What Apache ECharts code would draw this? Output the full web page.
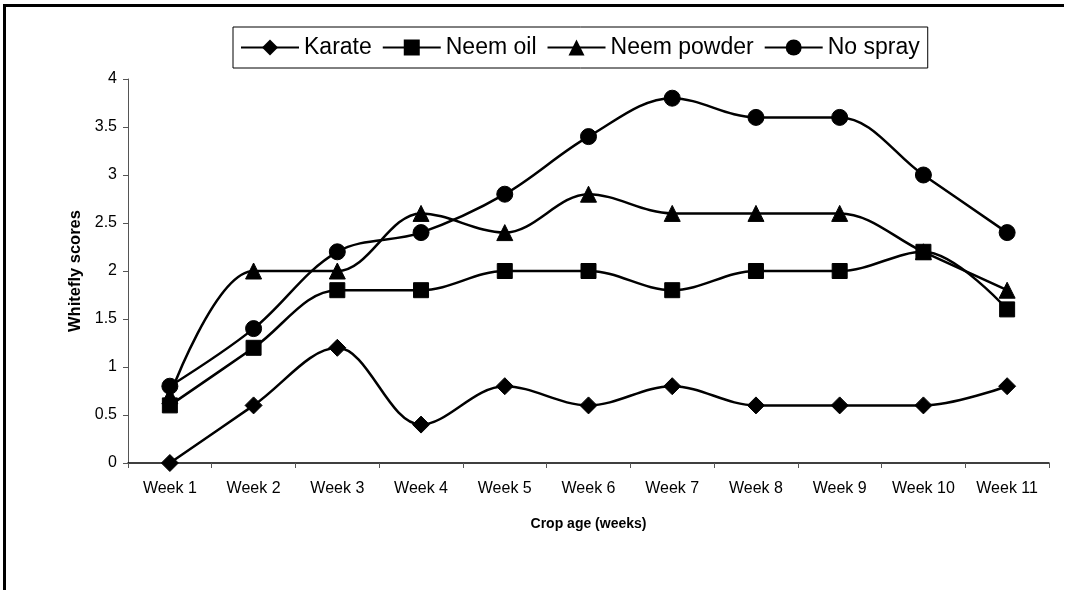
<!DOCTYPE html>
<html>
<head>
<meta charset="utf-8">
<script src="https://cdn.jsdelivr.net/npm/echarts@6/dist/echarts.min.js"></script>
<style>
  html, body { margin: 0; padding: 0; background: #fff; }
  #frame { position: absolute; left: 3px; top: 4px; width: 1061px; height: 590px;
    border-left: 3px solid #000; border-top: 3px solid #000; box-sizing: border-box; }
  #chart { position: absolute; left: 0; top: 0; width: 1073px; height: 590px; }
</style>
</head>
<body>
<div id="frame"></div>
<div id="chart"></div>
<script>
// ---- datos ----
const weeks = ['Week 1', 'Week 2', 'Week 3', 'Week 4', 'Week 5', 'Week 6',
  'Week 7', 'Week 8', 'Week 9', 'Week 10', 'Week 11'];
const karate = [0, 0.6, 1.2, 0.4, 0.8, 0.6, 0.8, 0.6, 0.6, 0.6, 0.8];
const neemOil = [0.6, 1.2, 1.8, 1.8, 2.0, 2.0, 1.8, 2.0, 2.0, 2.2, 1.6];
const neemPowder = [0.7, 2.0, 2.0, 2.6, 2.4, 2.8, 2.6, 2.6, 2.6, 2.2, 1.8];
const noSpray = [0.8, 1.4, 2.2, 2.4, 2.8, 3.4, 3.8, 3.6, 3.6, 3.0, 2.4];

const FONT = '"Liberation Sans", Arial, sans-serif';

const serie = (name, data, symbol, size) => ({
  name, type: 'line', data, symbol, symbolSize: size, smooth: 0.35,
  lineStyle: { color: '#000', width: 2.5 },
  itemStyle: { color: '#000', borderColor: '#000' },
});

const chart = echarts.init(document.getElementById('chart'), null, { renderer: 'canvas' });
chart.setOption({
  animation: false,
  textStyle: { fontFamily: FONT, color: '#000' },
  legend: {
    left: 233, top: 27,
    padding: [9, 8, 9, 7],
    borderColor: '#000', borderWidth: 1,
    itemWidth: 58, itemHeight: 20, itemGap: 10,
    textStyle: { fontSize: 23, fontFamily: FONT, color: '#000' },
    data: ['Karate', 'Neem oil', 'Neem powder', 'No spray'],
  },
  grid: { left: 128, right: 24, top: 79, bottom: 127, containLabel: false },
  xAxis: {
    type: 'category', data: weeks, boundaryGap: true,
    axisLine: { lineStyle: { color: '#000', width: 1.5 } },
    axisTick: { show: true, length: 5, lineStyle: { color: '#555' } },
    axisLabel: { fontSize: 16, color: '#000', margin: 18, interval: 0, fontFamily: FONT },
    name: 'Crop age (weeks)', nameLocation: 'middle', nameGap: 54,
    nameTextStyle: { fontSize: 14, fontWeight: 'bold', color: '#000', fontFamily: FONT },
  },
  yAxis: {
    type: 'value', min: 0, max: 4, interval: 0.5,
    splitLine: { show: false },
    axisLine: { show: true, lineStyle: { color: '#555', width: 1 } },
    axisTick: { show: true, length: 5, lineStyle: { color: '#555' } },
    axisLabel: { fontSize: 16, color: '#000', margin: 11, fontFamily: FONT },
    name: 'Whitefly scores', nameLocation: 'middle', nameGap: 40,
    nameTextStyle: { fontSize: 16.5, fontWeight: 'bold', color: '#000', fontFamily: FONT },
  },
  series: [
    serie('Karate', karate, 'diamond', 17),
    serie('Neem oil', neemOil, 'rect', 15),
    serie('Neem powder', neemPowder, 'triangle', 16),
    serie('No spray', noSpray, 'circle', 16),
  ],
});
</script>
</body>
</html>
